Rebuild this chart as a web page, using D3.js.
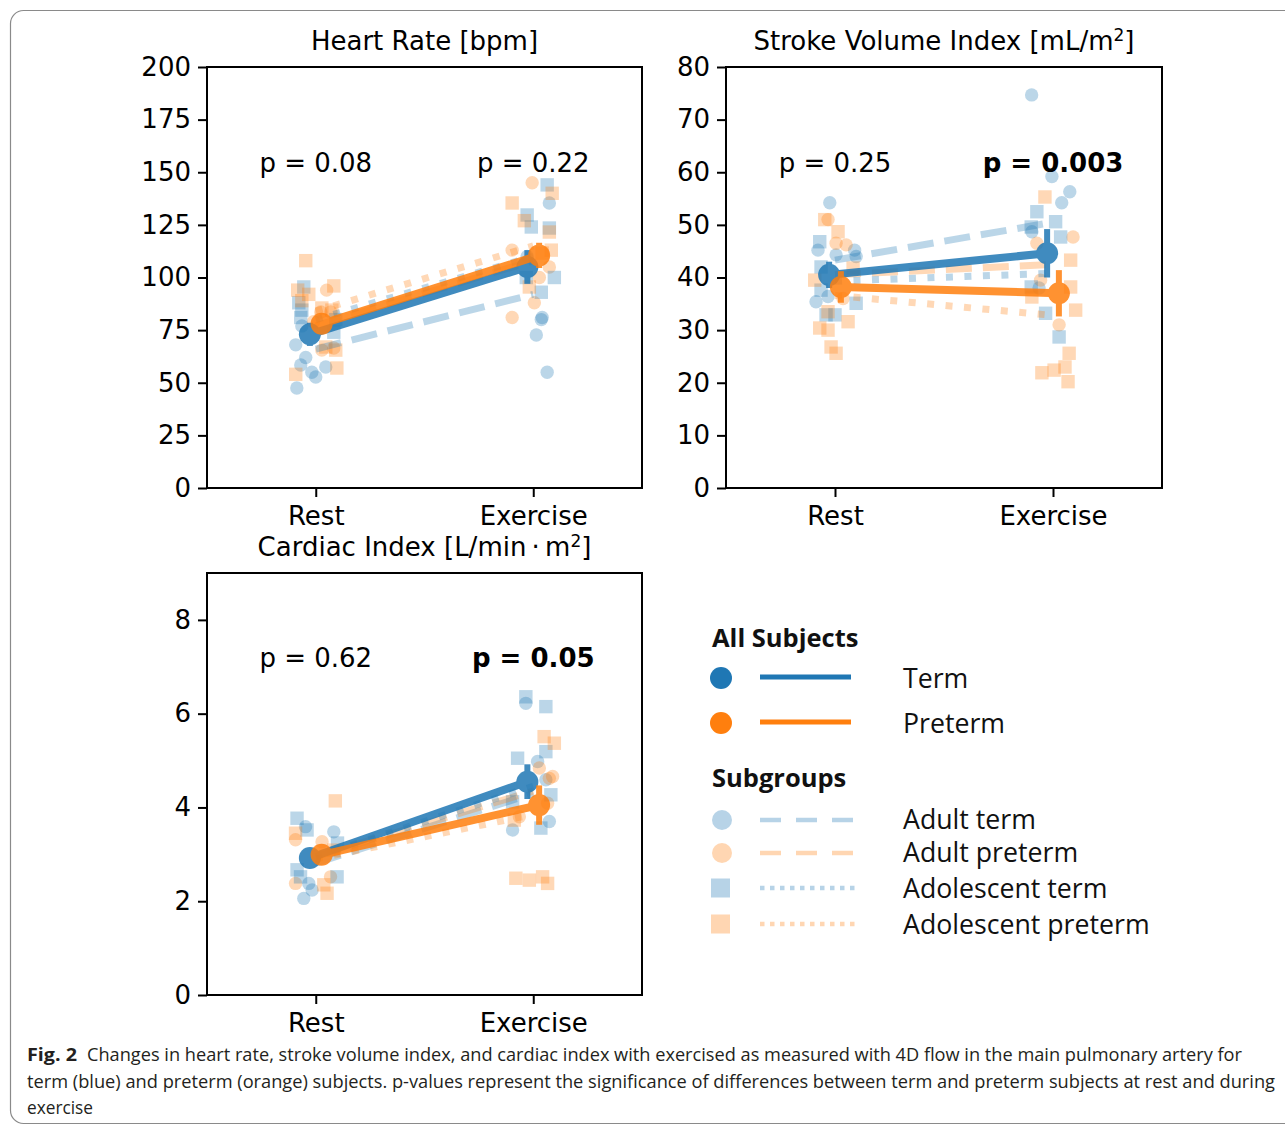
<!DOCTYPE html>
<html>
<head>
<meta charset="utf-8">
<script src="https://cdn.jsdelivr.net/npm/d3@7"></script>
<style>
body { margin: 0; background: #fff; }
svg text { font-family: "DejaVu Sans", sans-serif; }
</style>
</head>
<body>
<svg id="fig" width="1285" height="1126"></svg>
<script>
// Categories
const conditions = ["Rest", "Exercise"];
const subgroups = ["Adult term", "Adult preterm", "Adolescent term", "Adolescent preterm"];

// Heart rate: group means and error, [rest, exercise]
const hrTerm = [73, 105];
const hrTermErr = [5.5, 8];
const hrPreterm = [78, 110.5];
const hrPretermErr = [4, 6];
// subgroup means in subgroup order
const hrSub = [[66, 92], [77, 108], [80, 110], [84, 115]];
const hrP = ["p = 0.08", "p = 0.22"];
const hrBold = [false, false];
// individual subjects: [condition, jitter, value]
const hrAdultTerm = [[0,-0.092,68],[0,-0.046,62],[0,-0.069,58.4],[0,-0.018,55],[0,0,52.7],[0,0.046,57.5],[0,-0.087,47.5],[0,-0.064,77],
  [1,0.074,135.4],[1,0.041,81],[1,0.037,80],[1,0.014,72.7],[1,0.064,55],[1,-0.028,110]];
const hrAdultPreterm = [[0,0.05,94],[0,0.023,83.6],[0,0.069,83.6],[0,0.028,65.5],[0,0.083,66.5],[0,-0.01,79],
  [1,-0.005,145],[1,-0.097,113],[1,0.005,88],[1,-0.097,81],[1,0.074,105],[1,0.028,100]];
const hrAdolTerm = [[0,-0.064,84.5],[0,-0.069,81],[0,-0.055,95.5],[0,0.083,74],[0,0.092,80],[0,-0.078,88],
  [1,0.064,144],[1,-0.028,129.7],[1,-0.009,124],[1,0.074,123.5],[1,0.097,100],[1,0.037,93],[1,-0.032,100]];
const hrAdolPreterm = [[0,-0.046,108],[0,-0.083,94],[0,-0.064,89],[0,-0.032,92],[0,0.083,96],[0,0.028,85.5],[0,0.074,84.5],[0,0.046,67],[0,0.092,65.5],[0,0.097,57],[0,-0.092,54],
  [1,-0.097,135.4],[1,0.087,140],[1,-0.041,127],[1,0.074,121.6],[1,0.083,113],[1,-0.018,95.5],[1,0.041,111.6]];

// Stroke volume index
const sviTerm = [40.5, 44.6];
const sviTermErr = [2.5, 4.6];
const sviPreterm = [38.2, 37];
const sviPretermErr = [3, 4.4];
const sviSub = [[43.3, 50.5], [40.5, 42.5], [39.3, 40.8], [36.6, 32.8]];
const sviP = ["p = 0.25", "p = 0.003"];
const sviBold = [false, true];
const sviAdultTerm = [[0,-0.024,54.2],[0,-0.078,45.2],[0,0.09,45.2],[0,0.005,44.3],[0,-0.087,35.4],[0,-0.032,36.4],[0,0.097,44],
  [1,-0.098,74.7],[1,-0.005,59.2],[1,0.077,56.3],[1,0.04,54.2],[1,-0.097,48.7],[1,-0.064,38]];
const sviAdultPreterm = [[0,-0.032,51],[0,0.005,46.5],[0,0.051,46.2],[0,0.037,36],
  [1,0.092,47.7],[1,-0.074,46.5],[1,0.028,31],[1,-0.057,39.5]];
const sviAdolTerm = [[0,-0.07,46.8],[0,-0.064,42],[0,-0.064,37.6],[0,-0.041,32.9],[0,0.097,35.1],[0,0,32.9],
  [1,-0.074,52.5],[1,0.012,50.6],[1,-0.1,49.6],[1,0.035,47.7],[1,0.028,28.7],[1,-0.034,33.2],[1,-0.1,38.2]];
const sviAdolPreterm = [[0,-0.047,51],[0,0.014,48.7],[0,-0.093,39.5],[0,-0.07,30.4],[0,-0.032,30],[0,0.06,31.6],[0,-0.018,26.8],[0,0.005,25.6],[0,-0.032,33.5],[0,0.083,41.8],
  [1,-0.037,55.3],[1,0.081,43.3],[1,0.104,33.8],[1,0.074,25.6],[1,-0.051,21.9],[1,0.005,22.4],[1,0.055,23],[1,0.069,20.2],[1,0.081,38.2],[1,-0.097,36.3]];

// Cardiac index
const ciTerm = [2.92, 4.55];
const ciTermErr = [0.15, 0.37];
const ciPreterm = [2.99, 4.05];
const ciPretermErr = [0.15, 0.42];
const ciSub = [[2.81, 4.3], [2.95, 4.35], [2.95, 4.45], [2.9, 3.85]];
const ciP = ["p = 0.62", "p = 0.05"];
const ciBold = [false, true];
const ciAdultTerm = [[0,0.083,3.48],[0,-0.055,2.06],[0,-0.017,2.24],[0,-0.032,2.38],[0,-0.047,3.59],
  [1,-0.034,6.22],[1,0.02,4.98],[1,-0.095,3.52],[1,0.074,3.7],[1,0.058,4.59]];
const ciAdultPreterm = [[0,-0.093,3.31],[0,-0.093,2.38],[0,0.029,3.27],[0,0.068,2.52],
  [1,0.028,4.84],[1,0.074,4.62],[1,0.089,4.66],[1,0.066,4.09],[1,-0.064,3.8]];
const ciAdolTerm = [[0,-0.086,3.77],[0,-0.04,3.52],[0,-0.086,2.67],[0,-0.07,2.52],[0,0.098,2.52],[0,0.1,3.24],
  [1,-0.034,6.36],[1,0.058,6.15],[1,0.058,5.19],[1,-0.072,5.05],[1,0.081,4.27],[1,0.035,3.56],[1,-0.095,4.12]];
const ciAdolPreterm = [[0,0.09,4.14],[0,-0.093,3.45],[0,0.052,2.17],[0,0.037,2.35],[0,0.083,3.09],
  [1,0.05,5.51],[1,0.097,5.37],[1,-0.08,2.49],[1,-0.018,2.45],[1,0.043,2.52],[1,0.066,2.38],[1,-0.087,3.73]];

const blue = "#1f77b4";
const orange = "#ff7f0e";
const subColor = [blue, orange, blue, orange];
const subDash = ["26,11", "26,11", "7,11.5", "7,11.5"];

const svg = d3.select("#fig");

// frame of the published figure
svg.append("rect")
  .attr("x", 10.5).attr("y", 10.5)
  .attr("width", 1300).attr("height", 1113)
  .attr("rx", 13)
  .attr("fill", "none").attr("stroke", "#8a8a8a").attr("stroke-width", 1.2);

function drawPanel(p) {
  const g = svg.append("g").attr("transform", `translate(${p.left},${p.top})`);
  const x = d3.scaleLinear().domain([-0.5, 1.5]).range([0, p.width]);
  const y = d3.scaleLinear().domain([0, p.ymax]).range([p.height, 0]);

  // subjects
  p.points.forEach((pts, i) => {
    const sel = g.append("g").attr("fill", subColor[i]).attr("fill-opacity", 0.3);
    if (i < 2) {
      sel.selectAll("circle").data(pts).join("circle")
        .attr("cx", d => x(d[0] + d[1]))
        .attr("cy", d => y(d[2]))
        .attr("r", 6.7);
    } else {
      sel.selectAll("rect").data(pts).join("rect")
        .attr("x", d => x(d[0] + d[1]) - 6.7)
        .attr("y", d => y(d[2]) - 6.7)
        .attr("width", 13.4).attr("height", 13.4);
    }
  });

  // subgroup means
  p.sub.forEach((vals, i) => {
    g.append("line")
      .attr("x1", x(0)).attr("x2", x(1))
      .attr("y1", y(vals[0])).attr("y2", y(vals[1]))
      .attr("stroke", subColor[i]).attr("stroke-opacity", 0.3)
      .attr("stroke-width", 7).attr("stroke-dasharray", subDash[i]);
  });

  // group means with error bars
  const mains = [[p.term, p.termErr, blue, -0.027], [p.preterm, p.pretermErr, orange, 0.027]];
  mains.forEach(([m, e, c, off]) => {
    const mg = g.append("g").attr("opacity", 0.85);
    mg.append("line")
      .attr("x1", x(off)).attr("x2", x(1 + off))
      .attr("y1", y(m[0])).attr("y2", y(m[1]))
      .attr("stroke", c).attr("stroke-width", 8);
    m.forEach((v, k) => {
      mg.append("line")
        .attr("x1", x(k + off)).attr("x2", x(k + off))
        .attr("y1", y(v - e[k])).attr("y2", y(v + e[k]))
        .attr("stroke", c).attr("stroke-width", 6);
      mg.append("circle")
        .attr("cx", x(k + off)).attr("cy", y(v)).attr("r", 11)
        .attr("fill", c);
    });
  });

  // p-values
  p.pText.forEach((t, k) => {
    g.append("text")
      .attr("x", x(k)).attr("y", y(p.pY))
      .attr("text-anchor", "middle")
      .attr("font-size", 26)
      .attr("font-weight", p.pBold[k] ? "bold" : "normal")
      .text(t);
  });

  // axes
  const ya = g.append("g")
    .call(d3.axisLeft(y).tickValues(p.ticks).tickSize(9).tickPadding(7));
  const xa = g.append("g").attr("transform", `translate(0,${p.height})`)
    .call(d3.axisBottom(x).tickValues([0, 1]).tickFormat(i => conditions[i]).tickSize(9).tickPadding(10));
  [ya, xa].forEach(a => {
    a.select(".domain").remove();
    a.selectAll("line").attr("stroke", "#000").attr("stroke-width", 2);
    a.selectAll("text").attr("font-size", 26).attr("fill", "#000")
      .attr("font-family", "DejaVu Sans");
  });
  g.append("rect")
    .attr("width", p.width).attr("height", p.height)
    .attr("fill", "none").attr("stroke", "#000").attr("stroke-width", 2);

  // title
  const t = g.append("text")
    .attr("x", p.width / 2).attr("y", -17)
    .attr("text-anchor", "middle").attr("font-size", 26);
  let lift = 0;
  p.title.forEach(part => {
    if (part.sup) {
      t.append("tspan").attr("dy", -9).attr("font-size", 17).text(part.sup);
      lift = 9;
    } else {
      t.append("tspan").attr("dy", lift).text(part.txt);
      lift = 0;
    }
  });
}

drawPanel({
  left: 207, top: 67, width: 435, height: 421, ymax: 200,
  ticks: d3.range(0, 201, 25),
  title: [{txt: "Heart Rate [bpm]"}],
  term: hrTerm, termErr: hrTermErr, preterm: hrPreterm, pretermErr: hrPretermErr,
  sub: hrSub, pText: hrP, pBold: hrBold, pY: 150,
  points: [hrAdultTerm, hrAdultPreterm, hrAdolTerm, hrAdolPreterm]
});

drawPanel({
  left: 726, top: 67, width: 436, height: 421, ymax: 80,
  ticks: d3.range(0, 81, 10),
  title: [{txt: "Stroke Volume Index [mL/m"}, {sup: "2"}, {txt: "]"}],
  term: sviTerm, termErr: sviTermErr, preterm: sviPreterm, pretermErr: sviPretermErr,
  sub: sviSub, pText: sviP, pBold: sviBold, pY: 60,
  points: [sviAdultTerm, sviAdultPreterm, sviAdolTerm, sviAdolPreterm]
});

drawPanel({
  left: 207, top: 573, width: 435, height: 422, ymax: 9,
  ticks: [0, 2, 4, 6, 8],
  title: [{txt: "Cardiac Index [L/min\u2009\u00b7\u2009m"}, {sup: "2"}, {txt: "]"}],
  term: ciTerm, termErr: ciTermErr, preterm: ciPreterm, pretermErr: ciPretermErr,
  sub: ciSub, pText: ciP, pBold: ciBold, pY: 7,
  points: [ciAdultTerm, ciAdultPreterm, ciAdolTerm, ciAdolPreterm]
});

// legend
const lg = svg.append("g");
const lgText = (x, y, s, bold) => lg.append("text")
  .attr("x", x).attr("y", y).attr("font-size", bold ? 25.5 : 26.7)
  .attr("font-weight", bold ? "bold" : "normal")
  .style("font-family", "'Open Sans', sans-serif")
  .attr("fill", "#111").text(s);

lgText(712, 647, "All Subjects", true);
const allRows = [["Term", blue, 678, 688], ["Preterm", orange, 723, 733]];
allRows.forEach(([s, c, cy, ty]) => {
  lg.append("circle").attr("cx", 721).attr("cy", cy).attr("r", 11).attr("fill", c);
  lg.append("line").attr("x1", 760).attr("x2", 851).attr("y1", cy - 1).attr("y2", cy - 1)
    .attr("stroke", c).attr("stroke-width", 5);
  lgText(903, ty, s);
});

lgText(712, 787, "Subgroups", true);
const legendY = [820, 853, 888, 924];
const legendTextY = [829, 862, 898, 934];
const legendDash = ["21,15", "21,15", "4.5,5.5", "4.5,5.5"];
subgroups.forEach((s, i) => {
  const cy = legendY[i];
  if (i < 2) {
    lg.append("circle").attr("cx", 722).attr("cy", cy).attr("r", 10)
      .attr("fill", subColor[i]).attr("fill-opacity", 0.32);
  } else {
    lg.append("rect").attr("x", 711).attr("y", cy - 9.5).attr("width", 19).attr("height", 19)
      .attr("fill", subColor[i]).attr("fill-opacity", 0.32);
  }
  lg.append("line").attr("x1", 760).attr("x2", i < 2 ? 853 : 858).attr("y1", cy).attr("y2", cy)
    .attr("stroke", subColor[i]).attr("stroke-opacity", 0.32)
    .attr("stroke-width", 4.5).attr("stroke-dasharray", legendDash[i]);
  lgText(903, legendTextY[i], s);
});

// caption
const cap = (x, y, s, w, bold) => svg.append("text")
  .attr("x", x).attr("y", y).attr("font-size", 17.5)
  .style("font-family", "'Open Sans', sans-serif")
  .attr("font-weight", bold ? "bold" : "normal")
  .attr("fill", "#231f20")
  .attr("textLength", w).attr("lengthAdjust", "spacingAndGlyphs")
  .text(s);
cap(27, 1061, "Fig. 2", 50, true);
cap(87, 1061, "Changes in heart rate, stroke volume index, and cardiac index with exercised as measured with 4D flow in the main pulmonary artery for", 1155);
cap(27, 1088, "term (blue) and preterm (orange) subjects. p-values represent the significance of differences between term and preterm subjects at rest and during", 1248);
cap(27, 1114, "exercise", 66);
</script>
</body>
</html>
